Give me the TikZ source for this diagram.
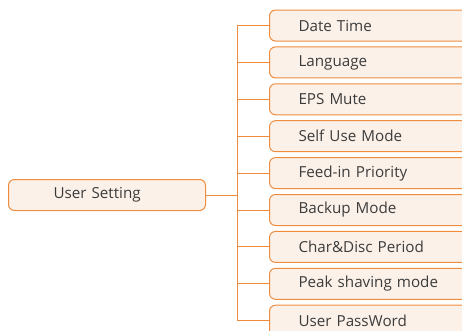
\documentclass[tikz,border=0pt]{standalone}
\usepackage{fontspec}
\setmainfont{Open Sans}
\usepackage{xcolor}
\usepackage{tikz}
\definecolor{menuLine}{RGB}{240,140,62}
\definecolor{menuFill}{RGB}{251,241,233}
\definecolor{menuText}{RGB}{60,60,60}
\tikzset{
  menubox/.style={draw=menuLine, fill=menuFill, line width=1pt, rounded corners=6pt,
    text=menuText, align=left, minimum height=31pt, inner ysep=0pt},
  link/.style={draw=menuLine, line width=1pt}
}

\begin{document}
\begin{tikzpicture}[x=1pt, y=-1pt, font=\fontsize{15.2}{17}\selectfont]
  \clip (0,0) rectangle (462,330);
  % --- root of the menu ---------------------------------------------------
  \node[menubox, anchor=west, text width=107pt, inner xsep=45pt] (user) at (8,195) {User Setting};
  \coordinate (trunk) at (237,195);
  \draw[link] (user.east) -- (trunk);
  % --- the sub menu entries -----------------------------------------------
  \foreach \i/\lab in {0/Date Time, 1/Language, 2/EPS Mute, 3/Self Use Mode,
                       4/Feed-in Priority, 5/Backup Mode, 6/Char\&Disc Period,
                       7/Peak shaving mode, 8/User PassWord} {
     \node[menubox, anchor=west, text width=170pt, inner xsep=29pt] (sub\i) at (269,25.5+36.9*\i) {\lab};
     \draw[link] (sub\i.west) -- (sub\i.west -| trunk);
  }
  % one vertical bar joins all branches
  \draw[link] (sub0.west -| trunk) -- (sub8.west -| trunk);
\end{tikzpicture}
\end{document}
